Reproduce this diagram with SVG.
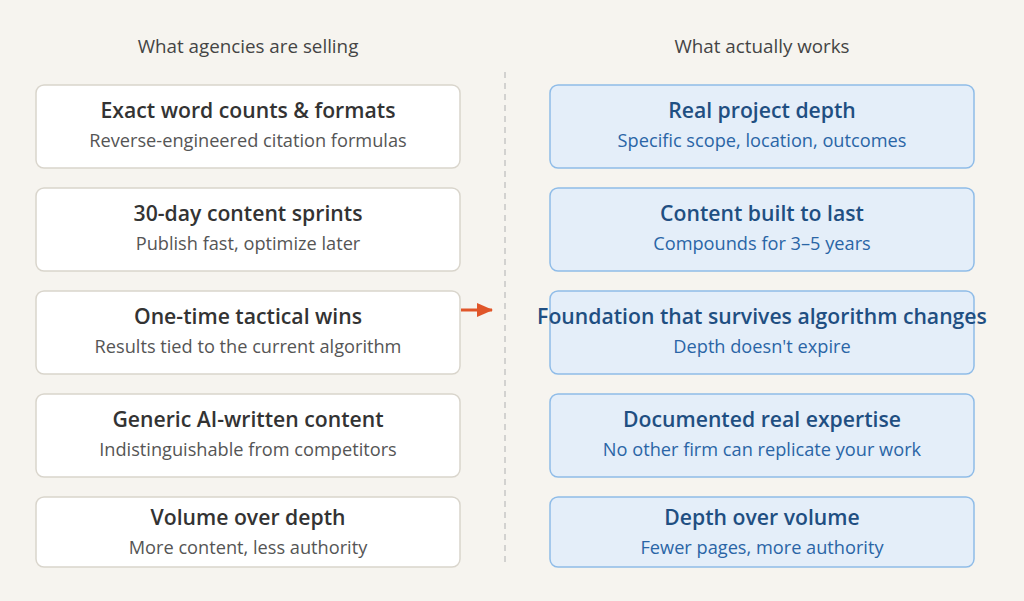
<svg xmlns="http://www.w3.org/2000/svg" width="1024" height="601" viewBox="0 0 1024 601">
<style>
.l rect{fill:#fff;stroke:#d9d5cc;stroke-width:1.5}
.r rect{fill:#e4eef9;stroke:#8fbce8;stroke-width:1.5}
text{font-family:"Open Sans","Noto Sans",sans-serif;text-anchor:middle}
.h{font-size:21.2px;font-weight:600}
.s{font-size:18.2px}
.l .h{fill:#333}.l .s{fill:#555}
.r .h{fill:#1f4f82}.r .s{fill:#2a65a6}
.t{font-size:18.8px;fill:#444}
</style>
<defs><marker id="a" markerWidth="16" markerHeight="16" refX="15" refY="7" orient="auto" markerUnits="userSpaceOnUse" viewBox="0 0 16 14"><path d="M0,0L16,7L0,14z" fill="#e0562a"/></marker></defs>
<rect width="1024" height="601" fill="#f6f4ef"/>
<text class="t" x="248" y="53">What agencies are selling</text>
<text class="t" x="762" y="53">What actually works</text>
<g id="connectors">
<line x1="505" y1="72" x2="505" y2="562" stroke="#bbb" stroke-width="1.2" stroke-dasharray="6,5"/>
<line x1="461" y1="310" x2="492" y2="310" stroke="#e0562a" stroke-width="3" marker-end="url(#a)"/>
</g>
<g id="l1" class="l"><rect x="36" y="85" width="424" height="83" rx="8"/><text class="h" x="248" y="118">Exact word counts &amp; formats</text><text class="s" x="248" y="147">Reverse-engineered citation formulas</text></g>
<g id="l2" class="l"><rect x="36" y="188" width="424" height="83" rx="8"/><text class="h" x="248" y="221">30-day content sprints</text><text class="s" x="248" y="250">Publish fast, optimize later</text></g>
<g id="l3" class="l"><rect x="36" y="291" width="424" height="83" rx="8"/><text class="h" x="248" y="324">One-time tactical wins</text><text class="s" x="248" y="353">Results tied to the current algorithm</text></g>
<g id="l4" class="l"><rect x="36" y="394" width="424" height="83" rx="8"/><text class="h" x="248" y="427">Generic AI-written content</text><text class="s" x="248" y="456">Indistinguishable from competitors</text></g>
<g id="l5" class="l"><rect x="36" y="497" width="424" height="70" rx="8"/><text class="h" x="248" y="525">Volume over depth</text><text class="s" x="248" y="554">More content, less authority</text></g>
<g id="r1" class="r"><rect x="550" y="85" width="424" height="83" rx="8"/><text class="h" x="762" y="118">Real project depth</text><text class="s" x="762" y="147">Specific scope, location, outcomes</text></g>
<g id="r2" class="r"><rect x="550" y="188" width="424" height="83" rx="8"/><text class="h" x="762" y="221">Content built to last</text><text class="s" x="762" y="250">Compounds for 3–5 years</text></g>
<g id="r3" class="r"><rect x="550" y="291" width="424" height="83" rx="8"/><text class="h" x="762" y="324">Foundation that survives algorithm changes</text><text class="s" x="762" y="353">Depth doesn't expire</text></g>
<g id="r4" class="r"><rect x="550" y="394" width="424" height="83" rx="8"/><text class="h" x="762" y="427">Documented real expertise</text><text class="s" x="762" y="456">No other firm can replicate your work</text></g>
<g id="r5" class="r"><rect x="550" y="497" width="424" height="70" rx="8"/><text class="h" x="762" y="525">Depth over volume</text><text class="s" x="762" y="554">Fewer pages, more authority</text></g>
</svg>
